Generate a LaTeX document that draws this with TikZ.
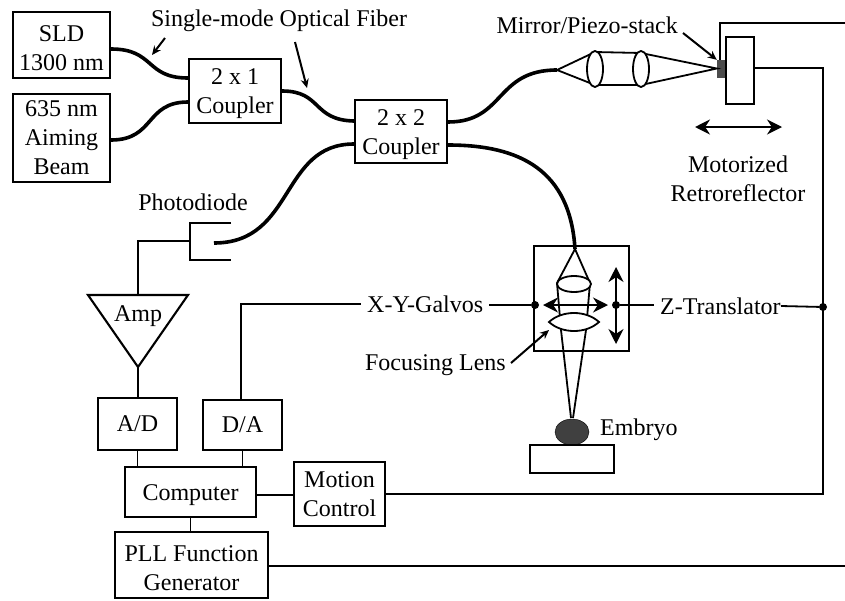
\documentclass[tikz,border=0pt]{standalone}
\usepackage{fontspec}
\setmainfont{Liberation Serif}
\usepackage{tikz}
\usetikzlibrary{shapes.geometric,arrows.meta}
\tikzstyle{line} = [draw, line width=1.8pt]
\tikzstyle{fiber} = [draw, line width=3.6pt]
\tikzstyle{box} = [draw, line width=2.1pt, inner sep=0pt, align=center]
\tikzstyle{pointer} = [draw, line width=2pt, -{Stealth[length=9pt,width=8pt]}]
\tikzstyle{motion} = [draw, line width=1.9pt, {Stealth[length=15pt,width=15pt]}-{Stealth[length=15pt,width=15pt]}]
\tikzstyle{junction} = [circle, fill=black, inner sep=0pt, minimum size=8pt]
\tikzstyle{txt} = [inner sep=0pt, align=center]
\tikzstyle{wiretxt} = [inner ysep=0pt, inner xsep=6pt]
\newcommand{\lowstrut}{\rule{0pt}{22pt}}

\begin{document}
\begin{tikzpicture}[x=1pt, y=-1pt, every node/.append style={font=\fontsize{24}{29}\selectfont}]
	\useasboundingbox (0,0) rectangle (845,600);
	% sources and couplers
	\node (sld) [box, minimum width=97pt, minimum height=66pt] at (61.5,45) {\lowstrut SLD\\1300 nm};
	\node (aim) [box, minimum width=97pt, minimum height=88pt] at (61.5,138) {635 nm\\Aiming\\Beam};
	\node (cone) [box, minimum width=92pt, minimum height=64pt] at (235,91) {\lowstrut 2 x 1\\Coupler};
	\node (ctwo) [box, minimum width=92pt, minimum height=63pt] at (401,131.5) {\lowstrut 2 x 2\\Coupler};
	\node (fiblabel) [txt] at (279,21) {Single-mode Optical Fiber};
	\coordinate (fibone) at (165,38);
	\coordinate (fibonetip) at (152,55);
	\coordinate (fibtwo) at (295,42);
	\coordinate (fibtwotip) at (307,88);
	\path [pointer] (fibone) -- (fibonetip);
	\path [pointer] (fibtwo) -- (fibtwotip);
	% fibers
	\coordinate (pdin) at (214,243);
	\coordinate (refin) at (557,70);
	\coordinate (samin) at (575,249);
	\path [fiber] (sld.east |- 0,49) .. controls (155,49) and (145,78) .. (cone.west |- 0,78);
	\path [fiber] (aim.east |- 0,140) .. controls (155,140) and (145,102) .. (cone.west |- 0,102);
	\path [fiber] (cone.east |- 0,91) .. controls (322,91) and (312,120) .. (ctwo.west |- 0,121);
	\path [fiber] (ctwo.west |- 0,144) .. controls (280,144) and (295,243) .. (pdin);
	\path [fiber] (ctwo.east |- 0,122) .. controls (505,122) and (495,70) .. (refin);
	\path [fiber] (ctwo.east |- 0,145) .. controls (520,145) and (570,170) .. (samin);
	% reference arm
	\coordinate (lensatop) at (595,52);
	\coordinate (lensabot) at (595,85);
	\coordinate (lensbtop) at (641,53);
	\coordinate (lensbbot) at (641,85);
	\node (piezo) [draw=black!70, fill=black!70, minimum width=8pt, minimum height=17pt, inner sep=0pt] at (721,68.5) {};
	\node (retro) [box, minimum width=28pt, minimum height=67pt] at (740,70.5) {};
	\path [line] (refin) -- (lensatop) -- (lensbtop) -- (piezo.west) -- (lensbbot) -- (lensabot) -- cycle;
	\draw [line width=1.8pt, fill=white] (595,69) ellipse (8 and 18);
	\draw [line width=1.8pt, fill=white] (641,69) ellipse (8 and 18);
	\node (mirlabel) [txt, anchor=east] at (678,25) {Mirror/Piezo-stack};
	\coordinate (mirfrom) at (683,33);
	\path [pointer] (mirfrom) -- (piezo.north west);
	\coordinate (retl) at (695,127);
	\coordinate (retr) at (782,127);
	\path [motion] (retl) -- (retr);
	\node (retlabel) [txt] at (738,179) {Motorized\\Retroreflector};
	% scan head
	\node (head) [box, minimum width=95pt, minimum height=105pt] at (581.5,298.5) {};
	\path [line] (samin) -- (557,283) -- (561,330) -- (571,418);
	\path [line] (samin) -- (590,283) -- (586,330) -- (573,418);
	\draw [line width=1.8pt, fill=white] (574,284) ellipse (17 and 8);
	\draw [line width=1.8pt, fill=white] (549,322) .. controls (562,310) and (586,310) .. (599,322) .. controls (586,334) and (562,334) .. cycle;
	\node (jxy) [junction] at (535,305) {};
	\node (jz) [junction] at (616,305) {};
	\coordinate (xl) at (543,305);
	\coordinate (xr) at (608,305);
	\coordinate (zt) at (616,267);
	\coordinate (zb) at (616,344);
	\path [motion] (xl) -- (xr);
	\path [motion] (zt) -- (zb);
	\node (xylabel) [wiretxt, anchor=west] at (361,304) {X-Y-Galvos};
	\node (zlabel) [wiretxt, anchor=west] at (654,306) {Z-Translator};
	\node (foclabel) [txt, anchor=east] at (506,365) {Focusing Lens};
	\coordinate (focfrom) at (511,363);
	\coordinate (foctip) at (549,330);
	\path [pointer] (focfrom) -- (foctip);
	\node (embryo) [ellipse, fill=black!75, draw=black, inner sep=0pt, minimum width=34pt, minimum height=26pt] at (572,432) {};
	\node (stage) [box, minimum width=84pt, minimum height=28pt] at (572,459) {};
	\node (emblabel) [txt, anchor=west] at (600,430) {Embryo};
	% detection and electronics
	\node (pdlabel) [txt] at (193,202) {Photodiode};
	\coordinate (pdtop) at (231,223);
	\coordinate (pdtl) at (190,223);
	\coordinate (pdbl) at (190,260);
	\coordinate (pdbot) at (231,260);
	\coordinate (pdout) at (190,241);
	\path [line] (pdtop) -- (pdtl) -- (pdbl) -- (pdbot);
	\coordinate (ampl) at (88,295);
	\coordinate (ampr) at (188,295);
	\coordinate (ampt) at (138,367);
	\path [line, line width=2.1pt] (ampl) -- (ampr) -- (ampt) -- cycle;
	\node (amp) [txt] at (138,316) {Amp};
	\node (ad) [box, minimum width=79pt, minimum height=52pt] at (137.5,424) {A/D};
	\node (da) [box, minimum width=79pt, minimum height=50pt] at (242.5,425) {D/A};
	\node (comp) [box, minimum width=131pt, minimum height=50pt] at (190.5,492) {\lowstrut Computer};
	\node (mc) [box, minimum width=91pt, minimum height=64pt] at (339.5,494) {Motion\\Control};
	\node (pll) [box, minimum width=153pt, minimum height=66pt] at (191.5,565) {\lowstrut PLL Function\\Generator};
	\node (jr) [junction] at (823,307) {};
	\coordinate (zend) at (781,306);
	\coordinate (rtop) at (823,68);
	\coordinate (rbot) at (823,494);
	\coordinate (ptop) at (720,23);
	\coordinate (pright) at (845,23);
	\coordinate (pllright) at (845,566);
	\path [line] (pdout) -| (ampl -| ampt);
	\path [line] (ampt) -- (ad.north -| ampt);
	\path [line] (ad.south) -- (comp.north -| ad.south);
	\path [line] (da.south) -- (comp.north -| da.south);
	\path [line] (comp.east |- 0,495) -- (mc.west |- 0,495);
	\path [line] (comp.south) -- (pll.north -| comp.south);
	\path [line] (mc.east |- rbot) -- (rbot) -- (rtop) -- (retro.east |- rtop);
	\path [line] (pll.east |- pllright) -- (pllright);
	\path [line] (piezo.north -| ptop) -- (ptop) -- (pright);
	\path [line] (da.north -| 241,0) |- (xylabel.west);
	\path [line] (xylabel.east |- jxy) -- (jxy);
	\path [line] (jz) -- (zlabel.west |- jz);
	\path [line] (zend) -- (jr);
\end{tikzpicture}
\end{document}
